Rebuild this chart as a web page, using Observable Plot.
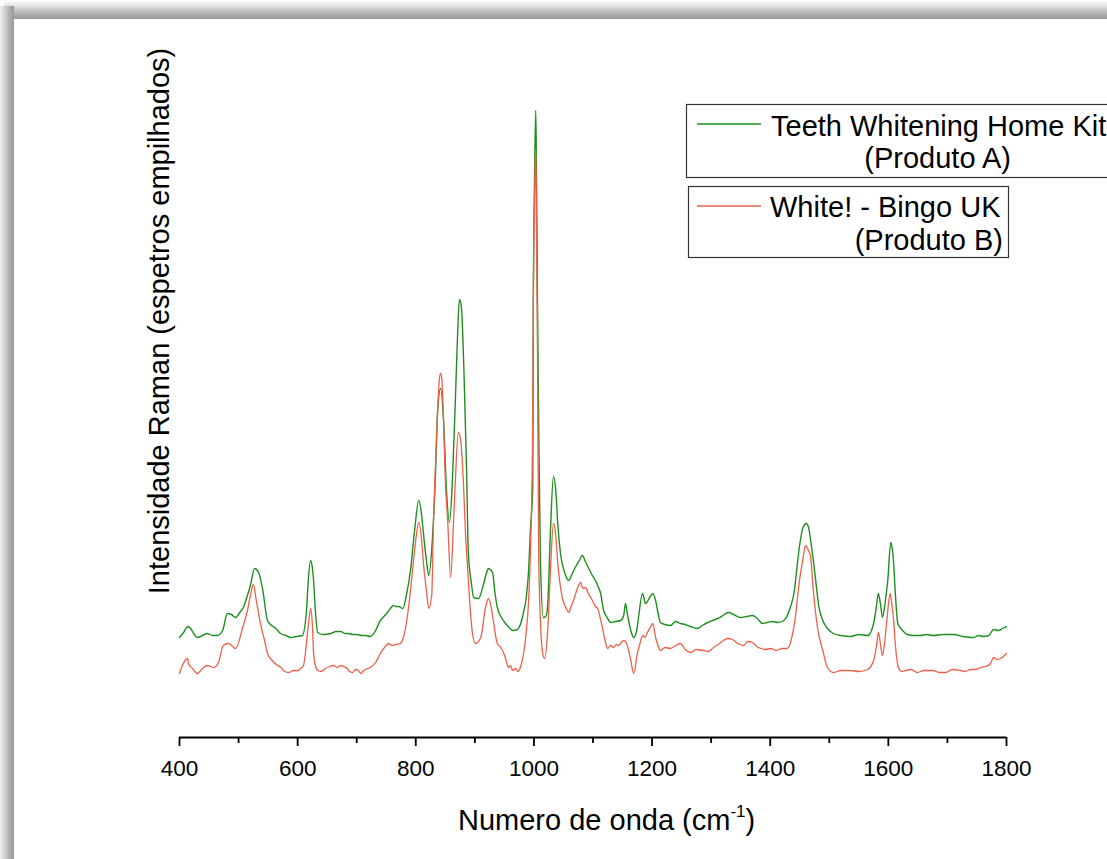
<!DOCTYPE html>
<html>
<head>
<meta charset="utf-8">
<script src="https://cdn.jsdelivr.net/npm/d3@7"></script>
<script src="https://cdn.jsdelivr.net/npm/@observablehq/plot@0.6"></script>
<style>
  html, body { margin: 0; padding: 0; background: #fff; }
  #page { position: relative; width: 1107px; height: 859px; overflow: hidden; background: #fff; }
  .shadowTop { position: absolute; left: 4px; top: 0; width: 1103px; height: 19px;
    background: linear-gradient(to bottom, #ffffff 0%, #e8e8e8 25%, #b8b8b8 65%, #999999 100%); }
  .shadowLeft { position: absolute; left: 0; top: 6px; width: 14px; height: 853px;
    background: linear-gradient(to right, #eeeeee 0%, #d0d0d0 35%, #a8a8a8 75%, #999999 100%); }
  .panel { position: absolute; left: 14px; top: 19px; width: 1093px; height: 840px; background: #fff; }
  #plot, #annot { position: absolute; left: 0; top: 0; }
</style>
</head>
<body>
<div id="page">
  <div class="shadowTop"></div>
  <div class="shadowLeft"></div>
  <div class="panel"></div>
  <div id="plot"></div>
  <svg id="annot" width="1107" height="859"></svg>
</div>
<script>
// ---- Data: [wavenumber (cm-1), stacked intensity (a.u.)] ----
const spectrumA = [
  [400,100],[407,105],[414,111],[419,109],[424,104],[430,100],[439,102],[447,104],[456,102],[464,102],
  [473,107],[481,124],[488,123],[495,120],[502,125],[508,130],[515,142],[520,152],[527,169],[534,165],
  [541,147],[549,117],[556,112],[563,109],[571,104],[580,102],[588,100],[597,101],[608,102],[615,127],
  [618,157],[622,177],[625,169],[627,157],[630,127],[634,105],[644,103],[656,104],[665,106],[673,106],
  [680,104],[686,104],[693,103],[701,103],[708,102],[715,102],[723,101],[732,107],[740,117],[746,121],
  [752,125],[757,129],[762,132],[767,131],[771,131],[778,129],[784,142],[791,167],[798,207],[805,237],
  [810,222],[813,204],[818,177],[822,162],[828,197],[833,257],[837,327],[842,349],[847,317],[852,247],
  [857,215],[862,257],[867,337],[871,407],[874,438],[877,432],[882,357],[886,267],[889,184],[894,155],
  [898,140],[906,139],[915,154],[920,165],[923,169],[926,168],[930,165],[934,145],[938,130],[945,120],
  [952,114],[958,110],[964,107],[972,108],[977,113],[982,124],[987,140],[991,167],[994,207],[998,250],
  [999,437],[1001,557],[1003,627],[1004,587],[1006,437],[1008,317],[1011,177],[1016,120],[1020,121],[1023,130],
  [1028,207],[1033,261],[1037,247],[1040,217],[1045,184],[1052,165],[1059,157],[1065,164],[1070,170],[1076,176],
  [1082,182],[1087,176],[1092,170],[1098,163],[1104,157],[1108,152],[1113,144],[1118,127],[1124,120],[1130,115],
  [1138,116],[1147,117],[1152,122],[1155,134],[1158,124],[1164,107],[1169,100],[1174,107],[1177,120],[1184,144],
  [1189,134],[1196,140],[1201,144],[1206,137],[1210,125],[1214,115],[1222,113],[1231,112],[1240,116],[1248,114],
  [1256,113],[1265,111],[1277,109],[1285,112],[1294,115],[1302,117],[1311,119],[1320,122],[1329,125],[1338,123],
  [1350,120],[1360,121],[1370,122],[1378,119],[1387,114],[1395,115],[1404,116],[1413,115],[1423,117],[1434,130],
  [1441,147],[1446,174],[1451,197],[1455,209],[1461,214],[1465,210],[1468,199],[1473,177],[1477,157],[1482,132],
  [1489,117],[1497,109],[1507,104],[1520,102],[1536,101],[1550,103],[1565,102],[1575,114],[1580,132],[1583,144],
  [1587,132],[1590,120],[1595,137],[1599,157],[1604,195],[1607,187],[1609,174],[1612,142],[1616,114],[1624,107],
  [1632,103],[1643,102],[1654,102],[1665,103],[1676,102],[1693,103],[1710,103],[1727,101],[1744,100],[1753,102],
  [1761,101],[1770,102],[1778,108],[1787,107],[1793,109],[1800,111]
];
const spectrumB = [
  [400,64],[405,72],[414,79],[415,74],[422,69],[430,64],[439,69],[447,72],[458,70],[466,75],
  [474,92],[483,94],[495,89],[507,110],[515,127],[520,142],[525,153],[530,137],[537,114],[544,97],
  [549,84],[557,77],[566,72],[572,70],[578,66],[585,65],[593,67],[601,67],[605,69],[610,72],
  [613,84],[618,112],[622,129],[625,112],[627,84],[630,72],[634,67],[640,66],[647,69],[654,71],
  [661,72],[667,70],[673,72],[678,71],[684,69],[688,66],[693,65],[698,68],[703,67],[707,64],
  [712,67],[718,69],[723,70],[732,75],[740,84],[747,90],[754,94],[760,92],[766,93],[774,94],
  [779,100],[786,122],[791,147],[798,187],[805,215],[810,197],[813,174],[818,147],[822,129],[827,142],
  [830,217],[833,267],[837,327],[840,359],[842,364],[844,359],[847,317],[850,257],[854,217],[859,160],
  [864,217],[867,257],[872,305],[876,297],[881,250],[884,207],[888,167],[893,122],[896,104],[901,94],
  [910,100],[918,130],[923,139],[927,132],[932,114],[938,94],[944,90],[949,84],[953,77],[957,70],
  [960,72],[964,67],[969,69],[973,66],[977,70],[986,100],[991,137],[994,184],[998,317],[999,437],
  [1001,537],[1003,589],[1004,537],[1006,387],[1008,184],[1011,117],[1015,84],[1018,79],[1023,104],[1028,167],
  [1033,214],[1037,202],[1040,177],[1048,140],[1054,130],[1059,125],[1063,131],[1067,137],[1073,148],[1079,155],
  [1083,149],[1087,150],[1093,143],[1099,137],[1104,131],[1108,129],[1112,120],[1116,110],[1120,98],[1125,89],
  [1130,92],[1135,90],[1140,93],[1143,92],[1148,95],[1152,97],[1157,94],[1160,88],[1164,77],[1169,64],
  [1175,84],[1180,95],[1184,102],[1188,100],[1192,105],[1197,110],[1201,114],[1206,100],[1210,92],[1214,87],
  [1222,90],[1231,89],[1240,92],[1248,94],[1256,88],[1265,85],[1275,88],[1287,87],[1295,86],[1304,90],
  [1312,93],[1321,97],[1328,99],[1336,98],[1345,94],[1355,92],[1362,96],[1370,95],[1377,91],[1384,89],
  [1392,88],[1401,89],[1410,87],[1420,89],[1429,89],[1438,104],[1443,122],[1448,150],[1455,177],[1460,192],
  [1463,189],[1468,182],[1473,147],[1480,110],[1489,87],[1497,70],[1507,65],[1520,67],[1536,67],[1550,66],
  [1565,68],[1575,77],[1580,92],[1583,105],[1587,92],[1590,82],[1594,97],[1597,114],[1603,144],[1605,137],
  [1609,117],[1612,92],[1617,70],[1623,66],[1629,67],[1638,68],[1649,65],[1660,67],[1676,67],[1686,65],
  [1697,65],[1708,68],[1722,67],[1730,66],[1739,68],[1748,68],[1756,70],[1765,71],[1773,74],[1778,80],
  [1784,78],[1790,79],[1800,84]
];

const majorTicks = [400, 600, 800, 1000, 1200, 1400, 1600, 1800];
const minorTicks = [500, 700, 900, 1100, 1300, 1500, 1700];
const seriesNames = ["Teeth Whitening Home Kit", "White! - Bingo UK"];
const seriesSub = ["(Produto A)", "(Produto B)"];
const xTitle = "Numero de onda (cm";
const xTitleSup = "-1";
const yTitle = "Intensidade Raman (espetros empilhados)";

const green = "#1e8f1e";
const red = "#ef5f4a";

const FONT = "'Liberation Sans', Arial, Helvetica, sans-serif";

const chart = Plot.plot({
  width: 1107,
  height: 859,
  marginLeft: 179,
  marginRight: 101,
  marginTop: 97,
  marginBottom: 122,
  x: {domain: [400, 1800], label: null},
  y: {domain: [0, 640], axis: null, label: null},
  style: {background: "transparent", fontFamily: FONT, fontSize: "22.5px", color: "#000", overflow: "visible"},
  marks: [
    Plot.line(spectrumA, {x: d => d[0], y: d => d[1], stroke: green, strokeWidth: 1.4, curve: "monotone-x"}),
    Plot.line(spectrumB, {x: d => d[0], y: d => d[1], stroke: red, strokeWidth: 1.3, curve: "monotone-x"}),
    Plot.ruleY([0], {stroke: "#000", strokeWidth: 2}),
    Plot.axisX({ticks: minorTicks, tickSize: 6, strokeWidth: 1.8, tickFormat: () => "", label: null}),
    Plot.axisX({ticks: majorTicks, tickSize: 9, strokeWidth: 1.8, tickPadding: 14, fontSize: 22.5, fill: "#000", label: null, tickFormat: d => String(d)})
  ]
});
document.getElementById("plot").appendChild(chart);

// ---- Titles and legend ----
const svg = d3.select("#annot").style("font-family", FONT);

const xt = svg.append("text").attr("x", 458).attr("y", 830).attr("font-size", 29).attr("fill", "#000");
xt.append("tspan").text(xTitle);
xt.append("tspan").attr("font-size", 17).attr("dy", -13).text(xTitleSup);
xt.append("tspan").attr("dy", 13).text(")");

svg.append("text")
  .attr("transform", "translate(169,321) rotate(-90)")
  .attr("text-anchor", "middle")
  .attr("font-size", 29)
  .attr("fill", "#000")
  .text(yTitle);

const legends = [
  {box: [686.5, 104.5, 520, 73], lineY: 124, color: green, t1: [771, 136], t2: [1011, 168]},
  {box: [688.5, 186.5, 320, 71], lineY: 206, color: red, t1: [770, 217], t2: [1003, 250]}
];
legends.forEach((L, i) => {
  svg.append("rect").attr("x", L.box[0]).attr("y", L.box[1]).attr("width", L.box[2]).attr("height", L.box[3])
    .attr("fill", "#fff").attr("stroke", "#333").attr("stroke-width", 1.2);
  svg.append("line").attr("x1", 697).attr("x2", 761).attr("y1", L.lineY).attr("y2", L.lineY)
    .attr("stroke", L.color).attr("stroke-width", 1.5);
  svg.append("text").attr("x", L.t1[0]).attr("y", L.t1[1]).attr("font-size", 29).attr("fill", "#000").text(seriesNames[i]);
  svg.append("text").attr("x", L.t2[0]).attr("y", L.t2[1]).attr("font-size", 29).attr("fill", "#000")
    .attr("text-anchor", "end").text(seriesSub[i]);
});
</script>
</body>
</html>
